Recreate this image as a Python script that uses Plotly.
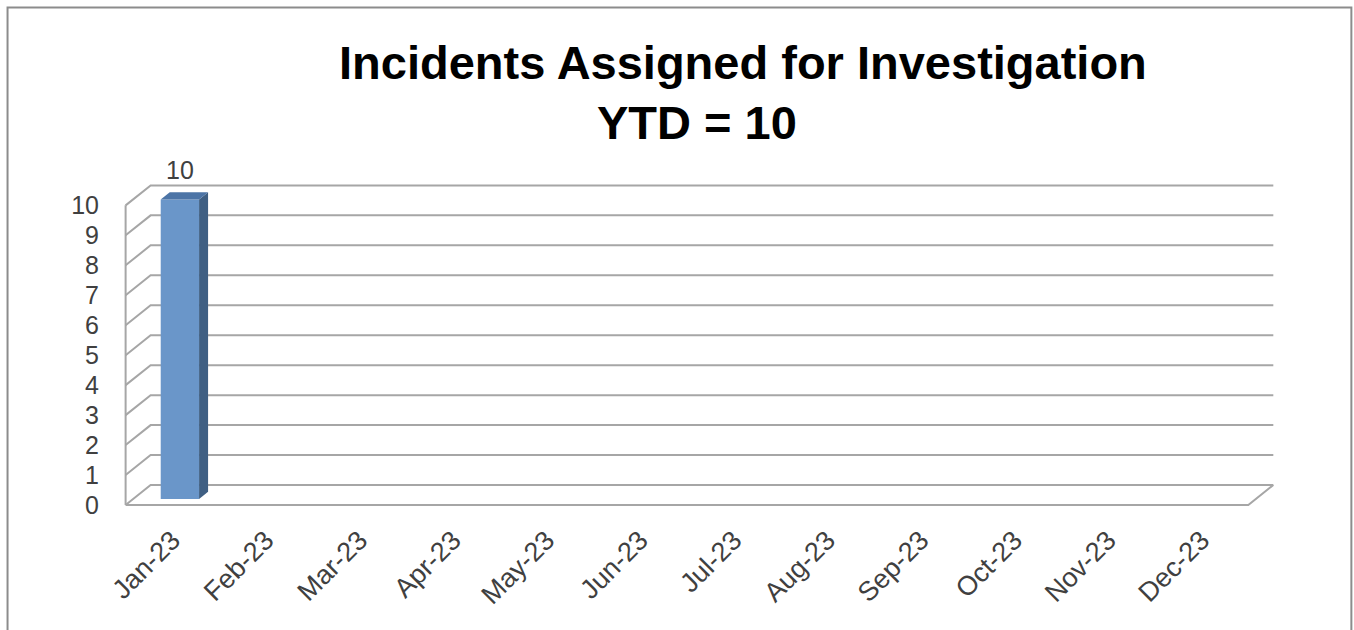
import plotly.graph_objects as go

# ---- data ----
months = ["Jan-23", "Feb-23", "Mar-23", "Apr-23", "May-23", "Jun-23",
          "Jul-23", "Aug-23", "Sep-23", "Oct-23", "Nov-23", "Dec-23"]
incidents = [10, None, None, None, None, None, None, None, None, None, None, None]
y_ticks = list(range(0, 11))
title_line1 = "Incidents Assigned for Investigation"
title_line2 = "YTD = 10"

# ---- geometry / style ----
W, H = 1354, 630
X0_PX, PX_PER_X = 126, 93.5      # pixel of front plane x=-0.5, px per category
Y0_PX, PX_PER_Y = 505, 30        # pixel of front floor y=0, px per unit
DX_PX, DY_PX = 25, 20            # oblique depth offset in px
ox = DX_PX / PX_PER_X
oy = DY_PX / PX_PER_Y
n = len(months)
x_lo, x_hi = -0.5, n - 0.5
y_top = max(y_ticks)
xr = [x_lo - 0.06, x_hi + ox + 0.05]
yr = [-0.1, y_top + oy + 0.08]
m_l = X0_PX + (xr[0] - x_lo) * PX_PER_X
m_r = W - (X0_PX + (xr[1] - x_lo) * PX_PER_X)
m_t = Y0_PX - yr[1] * PX_PER_Y
m_b = H - (Y0_PX - yr[0] * PX_PER_Y)
pw, ph = W - m_l - m_r, H - m_t - m_b


def px2paper(px, py):
    return (px - m_l) / pw, (H - m_b - py) / ph


GRID = "#A6A6A6"
FRONT, SIDE, TOP = "#6A96C9", "#3F5F83", "#4C74A6"
d_front, d_back, bw = 0.30, 0.66, 0.41
TXT = "#404040"
FONT = "Liberation Sans"

shapes = []
# gridlines: side wall diagonal + back wall horizontal
for k in y_ticks:
    shapes.append(dict(type="path", xref="x", yref="y", layer="below",
                       path=f"M {x_lo},{k} L {x_lo+ox},{k+oy} L {x_hi+ox},{k+oy}",
                       line=dict(color=GRID, width=2)))
# floor front edge
shapes.append(dict(type="path", xref="x", yref="y", layer="below",
                   path=f"M {x_lo},0 L {x_hi},0 L {x_hi+ox},{oy}",
                   line=dict(color=GRID, width=2)))
# left wall front edge
shapes.append(dict(type="line", xref="x", yref="y", layer="below",
                   x0=x_lo, y0=0, x1=x_lo, y1=y_top,
                   line=dict(color=GRID, width=2)))

bar_x, bar_y, bar_base = [], [], []
annotations = []
for i, v in enumerate(incidents):
    if v is None:
        continue
    xc = i + d_front * ox
    yb = d_front * oy
    bar_x.append(xc)
    bar_y.append(v)
    bar_base.append(yb)
    xl, xrr = xc - bw / 2, xc + bw / 2
    yt = v + yb
    ddx, ddy = (d_back - d_front) * ox, (d_back - d_front) * oy
    shapes.append(dict(type="path", xref="x", yref="y", layer="above",
                       path=f"M {xrr},{yb} L {xrr+ddx},{yb+ddy} L {xrr+ddx},{yt+ddy} L {xrr},{yt} Z",
                       fillcolor=SIDE, line=dict(width=0)))
    shapes.append(dict(type="path", xref="x", yref="y", layer="above",
                       path=f"M {xl},{yt} L {xrr},{yt} L {xrr+ddx},{yt+ddy} L {xl+ddx},{yt+ddy} Z",
                       fillcolor=TOP, line=dict(width=0)))
    annotations.append(dict(x=i + d_front * ox, y=v + d_back * oy,
                            xref="x", yref="y", text=str(v), showarrow=False,
                            yanchor="bottom", yshift=6,
                            font=dict(family=FONT, size=25, color=TXT)))

# outer chart border
bx0, by0 = px2paper(8, 7)
bx1, by1 = px2paper(1351, 660)
shapes.append(dict(type="rect", xref="paper", yref="paper", layer="below",
                   x0=bx0, y0=by1, x1=bx1, y1=by0,
                   line=dict(color="#8C8C8C", width=2)))

# titles
t1x, t1y = px2paper(743, 62)
t2x, t2y = px2paper(697, 122)
annotations.append(dict(x=t1x, y=t1y, xref="paper", yref="paper", text=f"<b>{title_line1}</b>",
                        showarrow=False, xanchor="center", yanchor="middle",
                        font=dict(family=FONT, size=47, color="#000000")))
annotations.append(dict(x=t2x, y=t2y, xref="paper", yref="paper", text=f"<b>{title_line2}</b>",
                        showarrow=False, xanchor="center", yanchor="middle",
                        font=dict(family=FONT, size=47, color="#000000")))

fig = go.Figure()
fig.add_trace(go.Bar(x=bar_x, y=bar_y, base=bar_base, width=bw,
                     marker=dict(color=FRONT, line=dict(width=0)),
                     hoverinfo="skip", showlegend=False))

fig.update_layout(
    width=W, height=H,
    margin=dict(l=m_l, r=m_r, t=m_t, b=m_b, autoexpand=False),
    paper_bgcolor="white", plot_bgcolor="white",
    shapes=shapes, annotations=annotations,
    showlegend=False,
    xaxis=dict(range=xr, tickmode="array", tickvals=list(range(n)), ticktext=months,
               tickangle=-45, showgrid=False, zeroline=False, showline=False,
               ticks="", ticklabelstandoff=10, automargin=False, fixedrange=True,
               tickfont=dict(family=FONT, size=27, color=TXT)),
    yaxis=dict(range=yr, tickmode="array", tickvals=y_ticks,
               ticktext=[str(k) for k in y_ticks],
               showgrid=False, zeroline=False, showline=False,
               ticks="", ticklabelstandoff=20, automargin=False, fixedrange=True,
               tickfont=dict(family=FONT, size=25, color=TXT)),
)

fig.write_html("out.html", config={"displayModeBar": False},
               post_script="document.body.style.margin='0';document.body.style.overflow='hidden';")
